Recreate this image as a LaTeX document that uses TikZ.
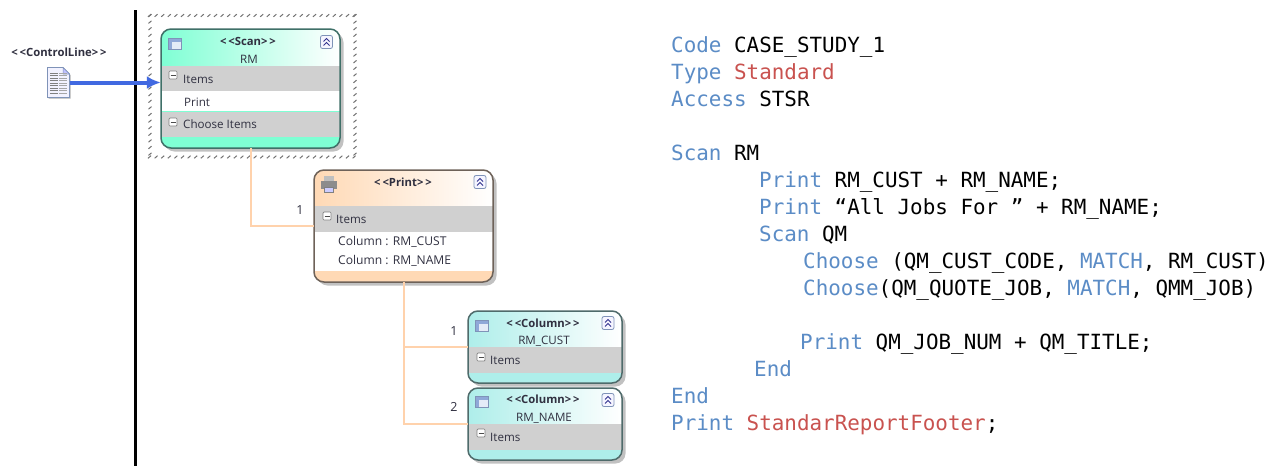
\documentclass[tikz,border=0pt]{standalone}
\usepackage{fontspec}
\setmainfont{Open Sans}
\newfontfamily\codefont{DejaVu Sans Mono}
\usetikzlibrary{shadows,arrows.meta}
\definecolor{kw}{HTML}{5B8CC6}
\definecolor{lit}{HTML}{C9524F}
\definecolor{scanc}{HTML}{7FFFD4}
\definecolor{printc}{HTML}{FFD9B5}
\definecolor{colc}{HTML}{AEEEEA}
\definecolor{band}{HTML}{D0D0D0}
\definecolor{wire}{HTML}{FFD2AC}
\definecolor{uitext}{HTML}{303040}
\definecolor{edgescan}{HTML}{3F7068}
\definecolor{edgeprint}{HTML}{6E6259}
\definecolor{edgecol}{HTML}{4F6B6B}
\definecolor{arrowblue}{HTML}{4169E1}
\definecolor{tableblue}{HTML}{8FA8D8}
\definecolor{tablelight}{HTML}{E4EBF7}
\definecolor{tableedge}{HTML}{7F93B8}
\tikzset{
  x=1pt,y=-1pt,
  boxbase/.style={rounded corners=10pt,inner sep=0pt,draw=none,fill=white,
    drop shadow={shadow xshift=3.5pt,shadow yshift=-3.5pt,fill=black!40,opacity=.6}},
  boxedge/.style={rounded corners=10pt,line width=1.5pt},
  conn/.style={draw=wire,line width=2pt},
  uilabel/.style={font=\fontsize{11.6}{13}\selectfont,text=uitext,inner sep=0pt,anchor=west},
  rowlabel/.style={font=\fontsize{12.1}{13}\selectfont,text=uitext,inner sep=0pt,anchor=west},
  stereo/.style={font=\fontsize{11.3}{13}\selectfont\bfseries,text=uitext,inner sep=0pt},
  uititle/.style={font=\fontsize{11.6}{13}\selectfont,text=uitext,inner sep=0pt},
  numlabel/.style={font=\fontsize{12.5}{13}\selectfont,text=uitext,inner sep=0pt},
  hatch/.style={draw=black!55,line width=1pt},
  codeline/.style={font=\codefont\fontsize{20.9}{24}\selectfont,inner sep=0pt,anchor=base west,text=black},
}
% name, x1, y1, x2, y2, colour, header bottom, edge colour, bands
\newcommand{\umlframe}[9]{%
  \node[boxbase,minimum width={(#4-#2)*1pt},minimum height={(#5-#3)*1pt}] (#1) at ({(#2+#4)/2},{(#3+#5)/2}) {};
  \begin{scope}
    \clip[rounded corners=10pt] (#2,#3) rectangle (#4,#5);
    \fill[#6] (#2,#3) rectangle (#4,#5);
    \shade[left color=#6,middle color=#6!85!white,right color=white,shading angle=90] (#2,#3) rectangle (#4,#7);
    #9
  \end{scope}
  \draw[boxedge,draw=#8] (#2,#3) rectangle (#4,#5);
}
\newcommand{\bandrow}[3]{\fill[#3] (0,#1) rectangle (1284,#2);}
\newcommand{\collapsebtn}[2]{%
  \begin{scope}[shift={(#1,#2)}]
    \draw[draw=tableedge,fill=blue!4,rounded corners=2pt,line width=.8pt] (-6,-6.5) rectangle (6,6.5);
    \draw[draw=blue!45!black!80,line width=.9pt] (-3,-.5) -- (0,-3.5) -- (3,-.5) (-3,3.5) -- (0,.5) -- (3,3.5);
  \end{scope}}
\newcommand{\minusbox}[2]{%
  \begin{scope}[shift={(#1,#2)}]
    \draw[draw=black!50,fill=white,rounded corners=1pt,line width=.7pt] (-4,-4) rectangle (4,4);
    \draw[draw=black!70,line width=1pt] (-2.5,0) -- (2.5,0);
  \end{scope}}
\newcommand{\tableicon}[2]{%
  \begin{scope}[shift={(#1,#2)}]
    \fill[tableblue] (-6.5,-5.5) rectangle (6.5,5.5);
    \fill[tablelight] (-3.5,-2.5) rectangle (5.5,4.5);
    \draw[tableedge,line width=.5pt] (-6.5,-5.5) rectangle (6.5,5.5);
  \end{scope}}
\begin{document}
\begin{tikzpicture}
\useasboundingbox (0,0) rectangle (1284,466);
\fill[white] (0,0) rectangle (1284,466);

% control line
\draw[black,line width=3pt] (135,10) -- (135,466);

% selection frame
\foreach \i in {0,...,31} {
  \draw[hatch] ({149.5+\i*6.6-1.5},16.8) -- ++(3,-2.6);
  \draw[hatch] ({149.5+\i*6.6-1.5},158.3) -- ++(3,-2.6);
}
\foreach \i in {0,...,21} {
  \draw[hatch] (148.5,{15.5+\i*6.6+1.3}) -- ++(3,-2.6);
  \draw[hatch] (353.5,{15.5+\i*6.6+1.3}) -- ++(3,-2.6);
}

% boxes
\umlframe{scan}{161}{29}{340}{148}{scanc}{66}{edgescan}{%
  \bandrow{66}{91}{band}\bandrow{91}{111}{white}\bandrow{112}{137}{band}}
\umlframe{print}{314}{170}{493}{282}{printc}{206}{edgeprint}{%
  \bandrow{206}{232}{band}\bandrow{232}{271}{white}}
\umlframe{colA}{468}{311}{622}{383}{colc}{347}{edgecol}{\bandrow{347}{373}{band}}
\umlframe{colB}{468}{388}{622}{460}{colc}{424}{edgecol}{\bandrow{424}{450}{band}}

% connectors
\draw[conn] (scan.south) |- (print.west);
\draw[conn] (print.south) |- (colA.west);
\draw[conn] (print.south) |- (colB.west);

% document icon
\node[draw=none,minimum width=22pt,minimum height=30pt,inner sep=0pt] (doc) at (58.5,82.5) {};
\fill[black!30,shift={(1,1)}] (47.5,67.5) -- (63,67.5) -- (69.5,74) -- (69.5,97.5) -- (47.5,97.5) -- cycle;
\draw[fill=blue!5!white,draw=tableedge,line width=.8pt] (47.5,67.5) -- (63,67.5) -- (69.5,74) -- (69.5,97.5) -- (47.5,97.5) -- cycle;
\fill[blue!25!white,draw=tableedge,line width=.5pt] (63,67.5) -- (63,74) -- (69.5,74) -- cycle;
\foreach \yy in {73,75.5,...,94} { \draw[black!50,line width=1pt] (50,\yy) -- (58,\yy); \draw[black!35,line width=1pt] (59,\yy) -- (67,\yy); }

% arrow
\draw[draw=arrowblue,line width=4pt,-{Latex[length=14pt,width=13pt]}] (doc.east) -- (doc.east -| scan.west);

% icons
\tableicon{175}{44}
\collapsebtn{326.5}{42}
\minusbox{173}{75}
\minusbox{173}{122}
\begin{scope}[shift={(328.5,184)}]
  \fill[black!45] (-8,-3) rectangle (8,5);
  \fill[black!25] (-5,-8) rectangle (5,-3);
  \fill[blue!20!white,draw=black!50,line width=.4pt] (-4.5,3) rectangle (4.5,8);
\end{scope}
\collapsebtn{480}{182}
\minusbox{327}{216}
\tableicon{482}{326}
\collapsebtn{608}{323}
\minusbox{481}{357}
\tableicon{482}{402}
\collapsebtn{608}{400}
\minusbox{481}{433}

% labels
\node[stereo] (tCtl) at (59,52) {<\,<ControlLine>\,>};
\node[stereo] (tScan) at (248,41) {<\,<Scan>\,>};
\node[uititle] (tRM) at (249,59) {RM};
\node[uilabel] (iA) at (183,79) {Items};
\node[uilabel] (iB) at (184,102) {Print};
\node[uilabel] (iC) at (183,124) {Choose Items};
\node[stereo] (tPrint) at (403,182) {<\,<Print>\,>};
\node[uilabel] (iD) at (336,219) {Items};
\node[rowlabel] (iE) at (338,242) {Column : RM\_CUST};
\node[rowlabel] (iF) at (338,261) {Column : RM\_NAME};
\node[numlabel] (nA) at (300,210) {1};
\node[stereo] (tColA) at (543,323) {<\,<Column>\,>};
\node[uititle] (tCust) at (544,341) {RM\_CUST};
\node[uilabel] (iG) at (490,360) {Items};
\node[numlabel] (nB) at (454,331) {1};
\node[stereo] (tColB) at (543,399) {<\,<Column>\,>};
\node[uititle] (tName) at (544,418) {RM\_NAME};
\node[uilabel] (iH) at (490,437) {Items};
\node[numlabel] (nC) at (454,407) {2};

% code
\node[codeline] (c1) at (671,52) {\textcolor{kw}{Code} CASE\_STUDY\_1};
\node[codeline] (c2) at (671,79) {\textcolor{kw}{Type} \textcolor{lit}{Standard}};
\node[codeline] (c3) at (671,106) {\textcolor{kw}{Access} STSR};
\node[codeline] (c4) at (671,160) {\textcolor{kw}{Scan} RM};
\node[codeline] (c5) at (759,187) {\textcolor{kw}{Print} RM\_CUST + RM\_NAME;};
\node[codeline] (c6) at (759,214) {\textcolor{kw}{Print} “All Jobs For ” + RM\_NAME;};
\node[codeline] (c7) at (759,241) {\textcolor{kw}{Scan} QM};
\node[codeline] (c8) at (803,268) {\textcolor{kw}{Choose} (QM\_CUST\_CODE, \textcolor{kw}{MATCH}, RM\_CUST)};
\node[codeline] (c9) at (803,295) {\textcolor{kw}{Choose}(QM\_QUOTE\_JOB, \textcolor{kw}{MATCH}, QMM\_JOB)};
\node[codeline] (c10) at (800,349) {\textcolor{kw}{Print} QM\_JOB\_NUM + QM\_TITLE;};
\node[codeline] (c11) at (754,376) {\textcolor{kw}{End}};
\node[codeline] (c12) at (671,403) {\textcolor{kw}{End}};
\node[codeline] (c13) at (671,430) {\textcolor{kw}{Print} \textcolor{lit}{StandarReportFooter};};
\end{tikzpicture}
\end{document}
